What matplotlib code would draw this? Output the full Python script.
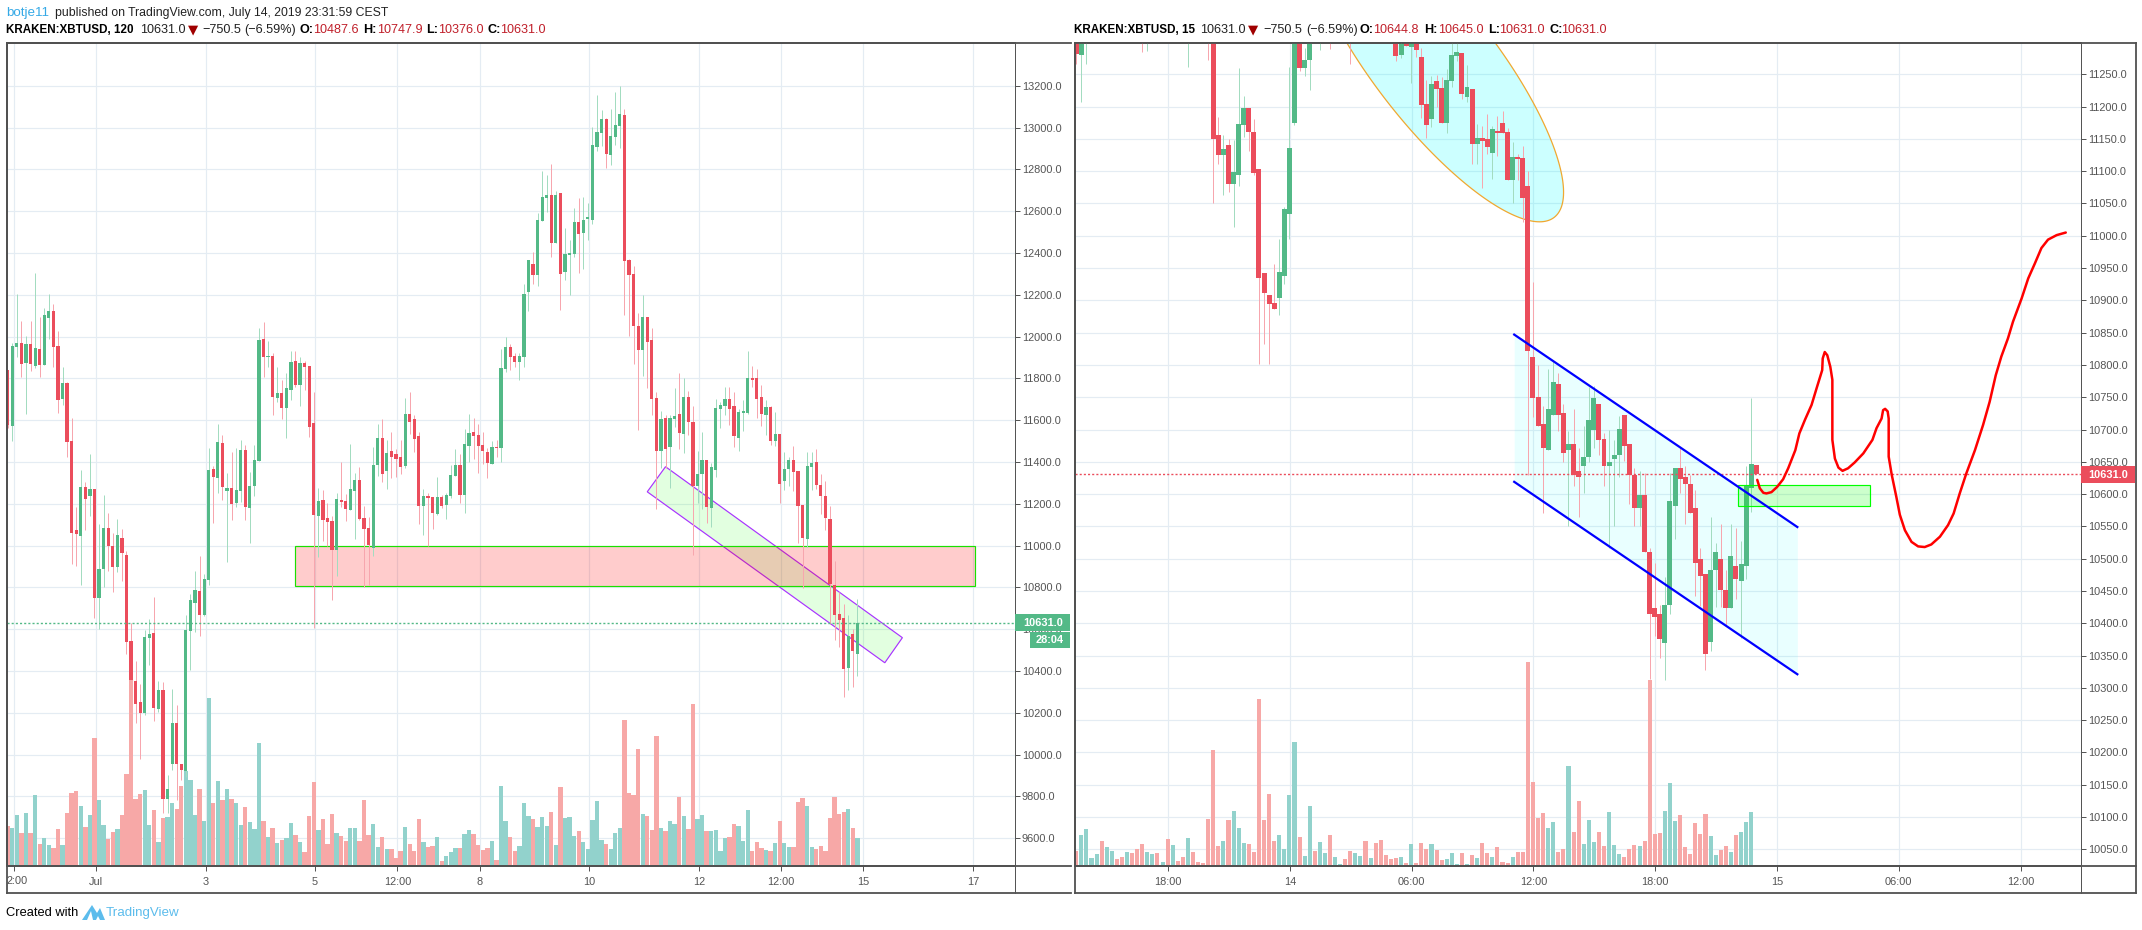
import numpy as np
import matplotlib
matplotlib.use("Agg")
import matplotlib.pyplot as plt
from matplotlib.patches import Polygon, Rectangle
from matplotlib.lines import Line2D

plt.rcParams["font.family"] = "Liberation Sans"

# ---------- left chart, 2h candles ----------
L_open = [11839,11571,11949,11968,11873,11964,11858,11940,11863,12088,12122,11954,11700,11777,11499,11074,11045,11279,11236,11270,
10748,10887,11083,10997,10897,11035,10954,10542,10351,10251,10198,10557,10581,10217,10308,9785,9954,10153,9957,9922,
10590,10724,10782,10667,10834,11365,11322,11490,11260,11275,11203,11260,11457,11179,11284,11404,11988,11902,11906,11705,
11729,11657,11744,11882,11768,11873,11858,11586,11141,11217,11131,11117,10978,11217,11212,11170,11260,11313,11131,11083,
10988,11385,11514,11356,11452,11437,11423,11380,11629,11605,11524,11189,11236,11232,11150,11232,11193,11236,11332,11385,
11241,11475,11542,11528,11480,11447,11389,11471,11466,11844,11949,11906,11877,11901,12212,12346,12294,12552,12662,12676,
12447,12686,12308,12389,12394,12547,12495,12561,12557,12906,12973,13040,12868,12954,13007,13059,12365,12298,12050,11935,
12093,11983,11705,11451,11609,11471,11605,11628,11533,11710,11591,11284,11342,11409,11179,11361,11653,11667,11701,11667,
11514,11634,11634,11801,11801,11710,11624,11662,11500,11533,11308,11366,11409,11356,11193,11031,11375,11399,11289,11236,
11126,10811,10672,10653,10414,10576,10481]
L_high = [11839,11970,12203,12074,12002,12074,12303,12093,12136,12203,12155,12026,11854,11782,11610,11184,11361,11303,11437,11270,
11102,11241,11155,11059,11126,11078,10973,10629,10447,10337,10595,10648,10753,10351,10346,9901,10313,10236,9957,10667,
10767,10877,10949,10863,11466,11380,11581,11528,11346,11447,11466,11504,11480,11351,11480,12040,12069,11978,11921,11854,
11791,11825,11930,11930,11902,11882,11858,11734,11275,11265,11203,11141,11251,11399,11246,11485,11346,11375,11189,11136,
11471,11581,11605,11504,11543,11461,11504,11705,11734,11624,11543,11270,11251,11232,11327,11241,11251,11385,11461,11437,
11557,11628,11609,11581,11542,11466,11499,11504,11940,11997,11963,11920,11920,12250,12365,12404,12590,12791,12772,12825,
12695,12686,12518,12461,12614,12662,12667,12638,13002,13155,13083,13045,13088,13169,13198,13088,12370,12337,12112,12198,
12093,12040,11734,11643,11624,11624,11753,11825,11801,11738,11667,11452,11543,11409,11394,11701,11686,11758,11758,11734,
11653,11696,11930,11859,11844,11768,11696,11667,11638,11533,11447,11423,11476,11356,11193,11447,11447,11461,11342,11308,
11189,10925,10777,10720,10667,10600,10744]
L_low = [11562,11499,11901,11804,11629,11834,11849,11804,11863,11988,11854,11633,11672,11423,10911,10901,10810,11074,11141,10653,
10600,10801,10877,10777,10873,10830,10480,10356,10153,9978,10188,10428,10160,10203,9718,9718,9925,9782,9877,9893,
10404,10586,10566,10662,10810,11107,11251,11217,10920,11121,11184,11208,11122,11012,11236,11404,11806,11854,11624,11686,
11605,11514,11696,11758,11667,11744,11519,10605,10945,11021,11000,10739,10854,11184,11117,11170,11031,11122,10803,10811,
10949,11332,11303,11270,11323,11327,11342,11370,11533,11447,11102,11050,10997,11079,11146,11179,11126,11227,11332,11203,
11155,11399,11413,11346,11389,11322,11389,11423,11399,11829,11839,11853,11791,11853,12121,12250,12241,12552,12595,12380,
12447,12126,12270,12198,12380,12303,12322,12461,12538,12887,12911,12806,12820,12916,12901,12102,12002,11868,11552,11810,
11753,11624,11174,11370,11370,11274,11566,11461,11442,11528,10954,11203,11174,11107,11088,11327,11562,11624,11576,11471,
11452,11548,11629,11758,11610,11571,11528,11481,11476,11203,11265,11284,11260,11012,10796,10992,11265,11270,11150,11074,
10624,10547,10514,10275,10308,10323,10375]
L_close = [11576,11954,11968,11868,11964,11868,11944,11863,12102,12122,11949,11696,11777,11495,11059,11054,11279,11222,11270,10748,
10887,11083,10997,10897,11050,10964,10538,10356,10241,10198,10562,10576,10222,10308,9785,9834,10153,9957,9925,10595,
10739,10787,10667,10839,11361,11327,11495,11279,11275,11198,11265,11457,11184,11284,11409,11983,11902,11906,11710,11729,
11657,11753,11878,11768,11873,11854,11567,11146,11212,11122,11112,10978,11222,11208,11174,11270,11313,11126,11079,11002,
11385,11514,11342,11442,11423,11413,11375,11629,11591,11509,11189,11236,11227,11155,11232,11189,11241,11337,11385,11241,
11485,11538,11523,11475,11451,11394,11471,11466,11849,11949,11901,11877,11906,12203,12365,12294,12557,12667,12676,12447,
12676,12298,12394,12399,12547,12490,12557,12571,12916,12978,13040,12873,12959,13011,13064,12361,12294,12050,11935,12093,
11973,11700,11451,11605,11461,11609,11619,11538,11710,11590,11284,11342,11409,11184,11375,11658,11672,11701,11653,11524,
11638,11643,11801,11792,11701,11629,11662,11500,11533,11294,11366,11409,11351,11189,11036,11380,11394,11289,11236,11131,
10815,10667,10643,10409,10567,10495,10631]
L_volume = [121,115,154,100,158,100,214,67,85,64,55,112,64,160,220,226,181,118,154,385,
199,124,82,103,112,154,277,604,202,217,229,122,169,71,144,146,190,172,239,286,
259,152,232,136,505,190,256,199,232,202,188,124,178,131,112,370,136,88,115,70,
79,85,130,94,73,43,151,253,109,142,67,157,100,91,76,115,115,76,199,94,
127,58,88,52,52,25,46,118,67,46,142,73,58,61,88,16,31,43,55,55,
97,109,97,64,49,55,76,19,241,136,88,46,61,190,151,142,118,147,121,163,
64,238,145,148,91,106,73,52,139,196,79,67,52,100,115,439,220,214,352,157,
151,109,391,115,106,136,127,208,151,112,487,142,154,106,106,109,46,85,88,127,
121,76,169,46,73,55,49,46,70,136,70,58,58,193,205,181,58,52,61,46,
145,208,157,163,172,115,85]
L_ticks = [19.3,43.3,67.3,85.3,103.3,127.3,151.3,169.3,187.3,211.3]
L_ticklabels = ["Jul","3","5","12:00","8","10","12","12:00","15","17"]

# ---------- right chart, 15m candles ----------
R_open = [11310,11280,11310,11340,11360,11375,11355,11375,11390,11380,11360,11385,11370,11345,11320,11340,11360,11345,11355,11330,
11350,11345,11330,11350,11340,11335,11330,11310,11156,11125,11141,11080,11094,11172,11198,11161,11104,10943,10909,10896,
10903,10937,11034,11175,11310,11260,11272,11330,11315,11335,11350,11320,11340,11350,11340,11320,11345,11360,11335,11345,
11325,11340,11330,11315,11280,11300,11292,11310,11277,11204,11181,11240,11229,11175,11240,11278,11283,11215,11227,11142,
11152,11150,11128,11162,11175,11161,11087,11122,11121,11077,10812,10751,10708,10669,10722,10770,10725,10669,10677,10635,
10643,10658,10700,10739,10686,10644,10654,10661,10722,10678,10630,10579,10599,10511,10423,10414,10369,10428,10581,10640,
10626,10616,10578,10500,10477,10371,10482,10499,10451,10423,10488,10466,10488,10610,10644.8]
R_high = [11320,11320,11360,11370,11385,11390,11385,11400,11400,11390,11395,11395,11380,11360,11345,11370,11370,11360,11365,11360,
11355,11350,11360,11360,11345,11340,11345,11320,11184,11156,11150,11148,11260,11217,11198,11181,11104,10943,10909,10957,
10995,11045,11261,11310,11320,11290,11320,11340,11345,11360,11360,11350,11360,11360,11350,11355,11370,11370,11355,11355,
11340,11350,11340,11325,11325,11310,11315,11320,11291,11241,11247,11249,11246,11258,11300,11300,11283,11264,11227,11173,
11170,11189,11170,11186,11193,11167,11145,11127,11139,11100,10929,10800,10737,10794,10808,10787,10739,10697,10731,10671,
10705,10766,10768,10739,10694,10700,10683,10721,10722,10678,10641,10635,10632,10517,10494,10428,10471,10632,10640,10671,
10644,10630,10606,10516,10477,10564,10524,10553,10482,10553,10548,10527,10644,10749,10645]
R_low = [11266,11207,11266,11325,11345,11350,11345,11365,11370,11350,11350,11360,11340,11285,11286,11330,11335,11340,11320,11320,
11340,11325,11261,11335,11330,11325,11272,11051,11111,11063,11068,11014,11077,11153,11131,11094,10801,10833,10801,10887,
10878,10926,10995,11172,11255,11248,11226,11310,11288,11325,11289,11310,11330,11330,11266,11310,11335,11325,11325,11315,
11305,11315,11310,11271,11275,11294,11237,11277,11183,11152,11169,11200,11175,11159,11230,11271,11212,11207,11111,11111,
11074,11127,11088,11124,11159,11087,11051,11087,11022,10629,10719,10706,10570,10669,10722,10698,10650,10551,10612,10564,
10601,10650,10672,10661,10613,10517,10551,10626,10652,10585,10551,10551,10510,10313,10380,10346,10312,10415,10531,10601,
10553,10570,10442,10426,10327,10357,10425,10425,10397,10423,10437,10377,10468,10572,10631]
R_close = [11281,11305,11340,11360,11375,11355,11375,11390,11380,11360,11385,11370,11345,11320,11340,11360,11345,11355,11330,11350,
11345,11330,11350,11340,11335,11330,11312,11150,11125,11135,11080,11099,11173,11198,11161,11097,10934,10912,10895,10887,
10944,11042,11136,11310,11260,11272,11310,11315,11335,11350,11320,11340,11350,11340,11320,11345,11360,11335,11345,11325,
11320,11325,11320,11278,11297,11294,11300,11288,11203,11172,11235,11227,11175,11241,11280,11285,11220,11230,11142,11152,
11147,11138,11165,11159,11159,11087,11122,11119,11059,10821,10749,10706,10672,10731,10774,10723,10664,10677,10629,10626,
10657,10715,10749,10684,10644,10650,10661,10701,10675,10629,10579,10599,10510,10414,10409,10375,10428,10589,10640,10624,
10615,10570,10494,10473,10352,10482,10511,10451,10423,10504,10468,10491,10612,10646,10631]
R_volume = [46,94,112,25,37,76,58,46,22,28,43,40,52,67,43,37,40,13,82,64,
16,28,85,43,13,10,142,349,61,76,139,166,115,70,67,43,502,139,217,76,
94,52,214,373,88,31,181,46,73,40,94,28,7,22,46,40,31,76,25,70,
79,34,22,25,28,10,67,10,70,52,67,49,19,22,40,7,40,7,34,25,
70,40,28,58,13,10,28,43,43,613,253,145,160,115,133,43,52,301,103,196,
67,139,73,103,61,163,64,37,28,52,64,61,76,559,97,100,166,250,136,154,
58,37,130,97,157,91,34,49,61,43,94,103,133,163,3]
R_ticks = [18.1,42.1,66.1,90.1,114.1,138.1,162.1,186.1]
R_ticklabels = ["18:00","14","06:00","12:00","18:00","15","06:00","12:00"]

# hand-drawn red forecast on the right chart (bar index, price)
sketch_x = [134.2,134.7,135.4,136.0,137.0,138.1,139.3,140.3,141.7,142.5,143.6,144.9,145.9,147.0,147.1,147.5,148.0,148.6,149.0,149.0,
149.5,150.2,151.0,152.1,153.4,155.1,156.9,157.7,158.7,159.0,159.4,159.9,160.1,160.1,160.7,161.6,162.3,163.3,164.6,165.9,
167.2,168.5,170.2,171.8,172.9,174.1,175.4,177.1,178.7,180.0,181.2,182.3,183.6,184.6,186.3,187.6,188.9,190.2,191.5,193.2,195.0]
sketch_y = [10622,10609,10602,10601,10603,10611,10623,10640,10668,10694,10715,10738,10764,10792,10810,10820,10815,10797,10777,10684,
10655,10641,10636,10640,10649,10663,10684,10702,10717,10730,10732,10728,10717,10658,10630,10596,10568,10544,10526,10519,
10518,10522,10534,10552,10570,10601,10632,10668,10707,10743,10784,10813,10841,10867,10903,10934,10957,10981,10994,11001,11005]

LAST = 10631.0

W, H = 2142, 930
UP, DOWN = "#53b987", "#eb4d5c"
UP_W, DOWN_W = "#a3dcc0", "#f7a6ae"
VOL_UP, VOL_DOWN = "#92d2cc", "#f7a8a7"
GRID = "#e4ecf3"
FRAME = "#505050"
TXT = "#555555"
PX = 0.72

fig = plt.figure(figsize=(W / 100, H / 100), dpi=100, facecolor="white")


def make_ax(x0, x1, y0, y1):
    return fig.add_axes([x0 / W, 1 - y1 / H, (x1 - x0) / W, (y1 - y0) / H])


def style(ax, xlim, ylim, yt, xt, xl):
    ax.set_xlim(*xlim)
    ax.set_ylim(*ylim)
    ax.set_yticks(yt)
    ax.set_yticklabels([f"{v:.1f}" for v in yt])
    ax.set_xticks(xt)
    ax.set_xticklabels(xl)
    ax.yaxis.tick_right()
    ax.grid(True, color=GRID, lw=0.85, zorder=0)
    ax.set_axisbelow(True)
    ax.tick_params(axis="y", length=3.6, width=PX, color=TXT, labelcolor=TXT, labelsize=7.9, pad=1.2)
    ax.tick_params(axis="x", length=3.6, width=PX, color=TXT, labelcolor=TXT, labelsize=7.9, pad=4)
    for s in ("top", "left", "bottom"):
        ax.spines[s].set_color(FRAME)
        ax.spines[s].set_linewidth(1.3)
    ax.spines["right"].set_color(TXT)
    ax.spines["right"].set_linewidth(PX)


def candles(ax, o, h, l, c, vol, width, vol_width, minh):
    o, h, l, c, vol = map(np.asarray, (o, h, l, c, vol))
    x = np.arange(len(o))
    up = c >= o
    ax.bar(x, vol / (823 * 3), width=vol_width, color=[VOL_UP if u else VOL_DOWN for u in up],
           linewidth=0, transform=ax.get_xaxis_transform(), zorder=1)
    ax.vlines(x, l, h, colors=[UP_W if u else DOWN_W for u in up], lw=PX, zorder=4)
    ax.bar(x, np.maximum(np.abs(c - o), minh), bottom=np.minimum(o, c), width=width,
           color=[UP if u else DOWN for u in up], linewidth=0, zorder=5)


# ---------- left chart ----------
axL = make_ax(7, 1015, 43, 866)
candles(axL, L_open, L_high, L_low, L_close, L_volume, 0.7, 0.95, 5)
style(axL, (-0.153, 220.5), (9466.6, 13404.3), np.arange(9600, 13201, 200),
      [1.3] + L_ticks, [""] + L_ticklabels)
axL.add_patch(Polygon([(144.0, 11377), (195.85, 10559), (192.0, 10439), (140.0, 11257)], closed=True,
                      facecolor=(0.086, 1, 0, 0.12), edgecolor="#a833ff", lw=0.85, zorder=2))
axL.add_patch(Rectangle((62.86, 10805), 211.8 - 62.86, 195, facecolor=(1, 0, 0, 0.2),
                        edgecolor="#19e000", lw=0.85, zorder=3))
axL.axhline(LAST, color=UP, lw=1.0, ls=(0, (1.5, 1.5)), zorder=6)

# ---------- right chart ----------
axR = make_ax(1074.5, 2081, 43, 866)
candles(axR, R_open, R_high, R_low, R_close, R_volume, 0.98, 0.8, 2)
style(axR, (-0.35, 198.0), (10024.1, 11298.5), np.arange(10050, 11251, 50), R_ticks, R_ticklabels)
t = np.linspace(0, 2 * np.pi, 240)
axR.add_patch(Polygon(np.c_[70.7 + 23.5 * np.cos(t) + 9.45 * np.sin(t),
                            11266 - 237.4 * np.cos(t) + 58.0 * np.sin(t)],
                      closed=True, facecolor=(0, 1, 1, 0.2), edgecolor="#f0a830", lw=0.9, zorder=2))
axR.fill_between([86.3, 142.1], [10847, 10549], [10619, 10321], color=(0, 1, 1, 0.085), linewidth=0, zorder=2)
axR.plot([86.3, 142.1], [10847, 10549], color="#0000ff", lw=1.6, zorder=7)
axR.plot([86.3, 142.1], [10619, 10321], color="#0000ff", lw=1.6, zorder=7)
axR.add_patch(Rectangle((130.4, 10581), 26, 33, facecolor=(0, 1, 0, 0.2), edgecolor="#00ff00", lw=0.85, zorder=6))
axR.plot(sketch_x, sketch_y, color="#ff0000", lw=1.8, zorder=8, solid_capstyle="round")
axR.axhline(LAST, color=DOWN, lw=1.0, ls=(0, (1.5, 1.5)), zorder=6)


# ---------- frame lines, boxes and text placed on the figure ----------
def line(x0, y0, x1, y1, color=FRAME, lw=1.3):
    fig.add_artist(Line2D([x0 / W, x1 / W], [1 - y0 / H, 1 - y1 / H], color=color, lw=lw, zorder=3))


def box(x0, y0, x1, y1, color):
    fig.add_artist(Rectangle((x0 / W, 1 - y1 / H), (x1 - x0) / W, (y1 - y0) / H, color=color, lw=0, zorder=5))


def text(x, y, s, color="black", size=9.1, weight="normal", ha="left", family=None, z=6):
    kw = {"family": family} if family else {}
    fig.text(x / W, 1 - y / H, s, color=color, fontsize=size, fontweight=weight, ha=ha, va="center", zorder=z, **kw)


for x0, x1, xp in ((6.8, 1071, 1015), (1074.5, 2136, 2081)):
    line(x0, 43, x1, 43)
    line(x0, 866, x1, 866)
    line(x0, 893, x1, 893)
    line(x0, 43, x0, 893)
    line(xp, 43, xp, 893, TXT, PX)
line(2136, 43, 2136, 893)

text(6.5, 881, "2:00", TXT, 7.9)

box(1015, 614, 1070, 631, UP)
text(1043, 622.5, "10631.0", "white", 7.9, "bold", "center")
box(1030, 632, 1070, 648, UP)
text(1050, 640, "28:04", "white", 7.9, "bold", "center")
box(2081, 466, 2135, 483, DOWN)
text(2108, 474.5, "10631.0", "white", 7.9, "bold", "center")

RED = "#c01f2a"
text(6, 13, "botje11", "#35a9e6", 9.6)
text(55, 13, "published on TradingView.com, July 14, 2019 23:31:59 CEST", "#222222", 8.85)

text(6, 30, "KRAKEN:XBTUSD, 120", "black", 8.4, "bold")
for x, s, c, w in ((140, "10631.0", "#222222", "normal"), (202, "\u2212750.5", "#222222", "normal"),
                   (244, "(\u22126.59%)", "#222222", "normal"), (299, "O:", "black", "bold"),
                   (313, "10487.6", RED, "normal"), (363, "H:", "black", "bold"), (377, "10747.9", RED, "normal"),
                   (426, "L:", "black", "bold"), (438, "10376.0", RED, "normal"), (487, "C:", "black", "bold"),
                   (500, "10631.0", RED, "normal")):
    text(x, 30, s, c, 9.1, w)
text(188, 30, "\u25bc", "#a00000", 9.5, family="DejaVu Sans")

text(1074, 30, "KRAKEN:XBTUSD, 15", "black", 8.4, "bold")
for x, s, c, w in ((1200, "10631.0", "#222222", "normal"), (1263, "\u2212750.5", "#222222", "normal"),
                   (1306, "(\u22126.59%)", "#222222", "normal"), (1360, "O:", "black", "bold"),
                   (1373, "10644.8", RED, "normal"), (1424, "H:", "black", "bold"), (1438, "10645.0", RED, "normal"),
                   (1488, "L:", "black", "bold"), (1499, "10631.0", RED, "normal"), (1549, "C:", "black", "bold"),
                   (1561, "10631.0", RED, "normal")):
    text(x, 30, s, c, 9.1, w)
text(1248, 30, "\u25bc", "#a00000", 9.5, family="DejaVu Sans")

text(6, 913, "Created with", "black", 9.3)
text(106, 913, "TradingView", "#5cbcec", 9.6)
logo = [(82, 920), (92, 905), (97, 913), (100, 908), (105, 920), (100, 920), (98, 916), (96, 920),
        (93, 920), (91, 911), (87, 920)]
fig.add_artist(Polygon([(x / W, 1 - y / H) for x, y in logo], closed=True, color="#5cbcec", lw=0))

fig.savefig("out.png", dpi=100, facecolor="white")
